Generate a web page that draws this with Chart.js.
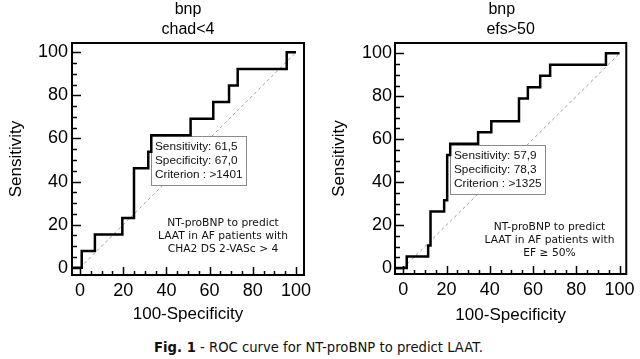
<!DOCTYPE html>
<html><head><meta charset="utf-8">
<script src="https://cdn.jsdelivr.net/npm/chart.js@4/dist/chart.umd.min.js"></script>
<style>
html,body{margin:0;padding:0;background:#fff;width:640px;height:359px;overflow:hidden;}
canvas{position:absolute;top:0;}
#c1{left:0px}
#c2{left:320px}
#cap{position:absolute;left:0;top:340px;width:637px;text-align:center;font-family:"DejaVu Sans",Verdana,sans-serif;font-size:13.2px;line-height:15px;color:#111;white-space:nowrap}
</style></head><body>
<canvas id="c1" width="320" height="330"></canvas>
<canvas id="c2" width="320" height="330"></canvas>
<div id="cap"><b>Fig. 1</b> - ROC curve for NT-proBNP to predict LAAT.</div>
<script>
// ---- data ----
const leftFpr  = [-3.5, 0.8, 6.9, 19.6, 25.0, 31.6, 33.0, 51.2, 61.7, 69.0, 73.0, 95.7, 100];
const leftSens = [0, 7.7, 15.4, 23.1, 46.2, 53.8, 61.5, 69.2, 76.9, 84.6, 92.3, 100, 100];
const rightFpr  = [-3.8, 1.6, 11.5, 12.6, 18.9, 20.3, 21.7, 34.6, 40.7, 53.5, 57.6, 63.3, 67.9, 93.7, 100];
const rightSens = [0, 5.3, 10.5, 26.3, 31.6, 52.6, 57.9, 63.2, 68.4, 78.9, 84.2, 89.5, 94.7, 100, 100];
const diagX = [0, 100];
const diagY = [0, 100];
const majorTicks = [0, 20, 40, 60, 80, 100];
const allTicks = [0,5,10,15,20,25,30,35,40,45,50,55,60,65,70,75,80,85,90,95,100];
const leftTitle = ['bnp', 'chad<4'];
const rightTitle = ['bnp    ', 'efs>50'];
const leftBoxLines = ['Sensitivity: 61,5', 'Specificity: 67,0', 'Criterion : >1401'];
const rightBoxLines = ['Sensitivity: 57,9', 'Specificity: 78,3', 'Criterion : >1325'];
const leftCut = {x: 33.0, y: 61.5};
const rightCut = {x: 21.7, y: 57.9};
const leftNote = ['NT-proBNP to predict', 'LAAT in AF patients with', 'CHA2 DS 2-VASc > 4'];
const rightNote = ['NT-proBNP to predict', 'LAAT in AF patients with', 'EF \u2265 50%'];

const FAM = '"Liberation Sans", Arial, sans-serif';
Chart.defaults.color = '#000';

const rocPlugin = {
  id: 'roc',
  afterDatasetDraw(chart, args, o) {
    if (args.index !== 0) return;
    const ctx = chart.ctx, xs = chart.scales.x, ys = chart.scales.y;
    const l = Math.round(xs.getPixelForValue(o.cut.x)) + 0.5;
    const t = Math.round(ys.getPixelForValue(o.cut.y)) + 1.5;
    ctx.save();
    ctx.fillStyle = '#fff';
    ctx.fillRect(l, t, o.boxW, o.boxH);
    ctx.strokeStyle = '#8a8a8a';
    ctx.lineWidth = 1;
    ctx.strokeRect(l, t, o.boxW, o.boxH);
    ctx.fillStyle = '#111';
    ctx.font = '11.8px ' + FAM;
    ctx.textBaseline = 'middle';
    ctx.textAlign = 'left';
    o.lines.forEach((s, i) => ctx.fillText(s, l + 3.5, t + 10.5 + i * 14));
    ctx.restore();
  },
  afterDraw(chart, args, o) {
    const ctx = chart.ctx, xs = chart.scales.x, ys = chart.scales.y, a = chart.chartArea;
    ctx.save();
    ctx.strokeStyle = '#000';
    ctx.lineWidth = 1.5;
    xs.ticks.forEach(t => {
      const p = Math.round(xs.getPixelForValue(t.value)) + 0.5;
      const len = majorTicks.includes(t.value) ? 8 : 4;
      ctx.beginPath(); ctx.moveTo(p, a.bottom); ctx.lineTo(p, a.bottom - len); ctx.stroke();
    });
    ys.ticks.forEach(t => {
      const p = Math.round(ys.getPixelForValue(t.value)) + 0.5;
      const len = majorTicks.includes(t.value) ? 9 : 5;
      ctx.beginPath(); ctx.moveTo(a.left, p); ctx.lineTo(a.left + len, p); ctx.stroke();
    });
    ctx.lineWidth = 2;
    ctx.strokeRect(a.left, a.top, a.right - a.left, a.bottom - a.top);
    // note
    ctx.fillStyle = '#111';
    ctx.font = '10.7px "DejaVu Sans", Verdana, sans-serif';
    ctx.textAlign = 'center';
    ctx.textBaseline = 'middle';
    const nx = xs.getPixelForValue(o.note.x), ny = ys.getPixelForValue(o.note.y);
    o.note.lines.forEach((s, i) => ctx.fillText(s, nx, ny + i * 13.2));
    ctx.restore();
  }
};

function makeChart(id, fpr, sens, title, geo, cut, boxLines, note) {
  const pts = fpr.map((v, i) => ({x: v, y: sens[i]}));
  const diag = diagX.map((v, i) => ({x: v, y: diagY[i]}));
  return new Chart(document.getElementById(id), {
    type: 'scatter',
    data: {datasets: [
      {data: diag, showLine: true, borderColor: '#9a9a9a', borderWidth: 1, borderDash: [3, 3], pointRadius: 0, order: 2},
      {data: pts, showLine: true, stepped: true, borderColor: '#000', borderWidth: 2.5, pointRadius: 0, order: 1}
    ]},
    options: {
      responsive: false, animation: false, devicePixelRatio: 1,
      layout: {autoPadding: false, padding: {left: 0, top: 0, bottom: 0, right: geo.padR}},
      plugins: {
        legend: {display: false}, tooltip: {enabled: false},
        title: {display: true, text: title, fullSize: false, color: '#000',
          font: {family: FAM, size: 16, weight: 'normal', lineHeight: 20.6 / 16},
          padding: {top: -1, bottom: 2.8}},
        roc: {cut: cut, lines: boxLines, boxW: 95, boxH: 49, note: note}
      },
      scales: {
        x: {type: 'linear', min: geo.xmin, max: geo.xmax,
          afterBuildTicks: s => { s.ticks = allTicks.map(v => ({value: v})); },
          afterFit: s => { s.height = geo.xh; },
          grid: {display: false, drawTicks: false}, border: {display: false},
          ticks: {autoSkip: false, maxRotation: 0, padding: 5, color: '#000', font: {family: FAM, size: 18},
            callback: v => majorTicks.includes(v) ? String(v) : ''},
          title: {display: true, text: '100-Specificity', color: '#000', font: {family: FAM, size: 17}, padding: {top: 0, bottom: geo.xtb}}
        },
        y: {type: 'linear', min: geo.ymin, max: geo.ymax,
          afterBuildTicks: s => { s.ticks = allTicks.map(v => ({value: v})); },
          afterFit: s => { s.width = geo.yw; },
          grid: {display: false, drawTicks: false}, border: {display: false},
          ticks: {autoSkip: false, padding: geo.ypad, color: '#000', font: {family: FAM, size: 18},
            callback: v => majorTicks.includes(v) ? String(v) : ''},
          title: {display: true, text: 'Sensitivity', color: '#000', font: {family: FAM, size: 17}, padding: {top: geo.ytp, bottom: 0}}
        }
      }
    },
    plugins: [rocPlugin]
  });
}

makeChart('c1', leftFpr, leftSens, leftTitle,
  {padR: 16, xmin: -3.7, xmax: 103.7, ymin: -3.39, ymax: 104.32, xh: 55, yw: 72, ypad: 4, xtb: 5, ytp: 6},
  leftCut, leftBoxLines, {x: 66.2, y: 20.8, lines: leftNote});
makeChart('c2', rightFpr, rightSens, rightTitle,
  {padR: 13, xmin: -3.82, xmax: 103.09, ymin: -2.8, ymax: 104.8, xh: 56, yw: 75, ypad: 3, xtb: 4, ytp: 9},
  rightCut, rightBoxLines, {x: 67.6, y: 19.2, lines: rightNote});
</script>
</body></html>
